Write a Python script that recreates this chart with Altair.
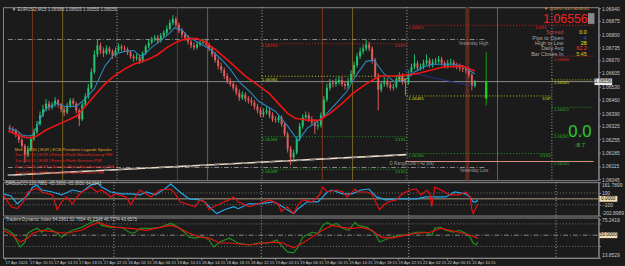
import json
import altair as alt
import pandas as pd

BG = "#1b1b1b"
FONT = "Liberation Sans"
AXC = "#c8c8c8"
GRID = "#8c8c8c"

# ---------------- data ----------------
# EURUSD candles (one candle per 30 min), values in pips above 1.06000
first_open_pips = 31.5
close_pips = [30.8, 29.8, 27.7, 25.1, 22.0, 17.4, 20.0, 25.6, 29.2, 33.4,
              38.0, 41.1, 44.1, 42.1, 43.6, 45.7, 43.6, 41.1, 39.5, 43.1,
              45.7, 44.1, 40.5, 35.9, 43.6, 47.7, 52.4, 60.6, 69.8, 74.5,
              71.9, 70.4, 72.9, 71.4, 69.3, 71.9, 73.9, 72.9, 72.4, 70.9,
              68.8, 67.8, 68.3, 66.2, 70.4, 73.9, 76.0, 77.6, 78.6, 77.0,
              79.6, 81.1, 83.2, 86.3, 88.3, 85.3, 82.2, 80.1, 78.6, 76.5,
              74.5, 73.4, 75.0, 76.0, 76.5, 75.0, 72.9, 69.8, 66.8, 63.7,
              61.6, 58.5, 56.0, 54.4, 52.4, 49.8, 47.2, 48.8, 46.7, 45.7,
              44.7, 42.6, 40.5, 38.5, 39.5, 40.5, 38.0, 35.9, 35.4, 36.9,
              33.4, 28.2, 20.5, 15.9, 18.4, 25.6, 32.3, 36.9, 38.0, 35.9,
              34.4, 32.3, 32.8, 38.0, 46.2, 52.4, 54.9, 54.4, 55.4, 56.5,
              54.4, 53.4, 56.0, 59.6, 64.2, 68.8, 71.4, 72.9, 75.0, 72.9,
              66.8, 58.5, 51.3, 54.4, 56.0, 53.9, 52.4, 52.9, 57.0, 58.5,
              55.4, 54.9, 59.6, 63.2, 65.2, 62.6, 63.2, 65.2, 66.8, 64.2,
              65.7, 66.2, 67.3, 65.2, 63.7, 65.2, 65.7, 64.2, 63.7, 62.6,
              62.1, 61.6, 59.1, 53.4, 55.6]
high_pips = [33.0, 32.0, 31.0, 29.0, 26.5, 23.0, 22.0, 27.0, 31.0, 35.0,
             40.0, 43.5, 46.5, 45.5, 45.0, 47.5, 46.5, 44.5, 42.5, 44.5,
             47.0, 47.0, 45.0, 41.5, 45.0, 49.5, 54.5, 62.5, 72.0, 77.5,
             76.0, 73.5, 74.5, 74.0, 72.5, 73.5, 75.5, 75.0, 74.5, 73.5,
             72.0, 70.0, 70.0, 69.5, 71.5, 75.0, 77.5, 79.0, 80.0, 80.0,
             81.0, 82.5, 85.0, 88.0, 90.4, 89.5, 86.5, 83.5, 81.5, 80.0,
             77.5, 76.0, 76.5, 77.5, 78.0, 77.5, 76.0, 74.0, 71.0, 68.0,
             65.5, 63.0, 60.0, 57.5, 56.0, 54.0, 51.5, 50.5, 50.0, 48.0,
             47.5, 46.0, 44.0, 42.0, 41.5, 42.5, 42.0, 39.5, 37.5, 38.5,
             38.0, 34.5, 29.5, 22.0, 20.0, 27.0, 34.0, 38.5, 40.0, 39.5,
             37.5, 36.0, 34.5, 39.5, 48.0, 54.5, 57.0, 56.5, 57.5, 58.5,
             58.0, 56.0, 57.5, 61.5, 66.0, 70.5, 73.5, 75.0, 77.6, 76.5,
             74.0, 68.0, 60.0, 56.0, 58.0, 57.5, 55.5, 54.5, 58.5, 60.5,
             60.0, 57.0, 61.5, 65.0, 69.8, 66.5, 65.0, 67.0, 69.8, 68.0,
             67.5, 68.0, 69.0, 68.5, 66.5, 67.0, 67.5, 67.0, 65.5, 65.0,
             64.0, 63.5, 63.0, 60.0, 56.5]
low_pips = [29.5, 28.5, 26.5, 23.5, 20.5, 13.3, 16.0, 19.0, 24.5, 28.0,
            32.5, 37.0, 40.0, 40.5, 41.0, 42.5, 42.0, 39.5, 37.5, 38.5,
            42.0, 43.0, 39.0, 32.3, 35.0, 42.5, 46.5, 51.5, 59.5, 68.5,
            70.0, 68.5, 69.5, 70.0, 67.5, 68.5, 71.0, 71.5, 71.0, 69.5,
            67.5, 66.0, 66.5, 64.7, 65.5, 69.5, 73.0, 75.0, 76.5, 75.5,
            76.0, 78.5, 80.0, 82.5, 85.0, 84.0, 81.0, 78.5, 77.0, 75.0,
            73.0, 72.0, 72.5, 74.0, 75.0, 73.5, 71.5, 68.5, 65.5, 62.0,
            60.0, 57.0, 54.5, 53.0, 51.0, 48.5, 45.5, 46.0, 45.0, 44.0,
            43.0, 41.0, 39.0, 37.0, 37.0, 38.5, 36.5, 34.5, 34.0, 34.0,
            32.0, 27.0, 18.5, 11.8, 13.5, 17.5, 24.5, 31.0, 35.5, 34.5,
            33.0, 28.2, 30.5, 31.5, 37.0, 45.0, 51.0, 52.5, 53.0, 54.0,
            53.0, 51.5, 52.0, 55.0, 58.5, 63.0, 67.5, 70.0, 71.5, 71.5,
            65.0, 57.0, 40.5, 50.0, 53.0, 52.5, 51.0, 51.0, 52.0, 56.0,
            54.0, 48.3, 54.0, 58.5, 62.0, 61.0, 61.5, 62.0, 64.0, 63.0,
            63.0, 64.5, 65.0, 64.0, 62.5, 62.5, 64.0, 63.0, 62.0, 61.0,
            60.5, 60.0, 57.5, 51.0, 52.5]

# moving averages (x = M15 bar index from 17 Apr 06:15, value in pips)
red_ma_x = [-1, 5, 12, 18, 24, 34, 44, 50, 56, 63, 69, 76, 82, 92, 98, 104, 111, 117, 124, 129,
            136, 146, 156, 165, 172, 178, 184, 189, 197, 205, 212, 220, 227, 236, 245, 255, 268,
            274, 287, 300, 308]
red_ma_p = [29.8, 27.7, 26.1, 27.2, 30.3, 33.9, 37.5, 42.6, 48.2, 54.4, 58.5, 62.1, 64.7, 67.3,
            69.8, 73.4, 76.5, 78.1, 78.1, 76.5, 72.4, 65.7, 58.5, 53.4, 49.3, 44.1, 39.0, 36.4,
            35.4, 35.4, 39.0, 44.1, 49.3, 54.4, 58.5, 58.5, 59.6, 60.6, 63.2, 63.7, 61.1]
blue_ma_x = [-1, 5, 8, 12, 15, 18, 21, 24, 31, 37, 44, 50, 56, 63, 69, 76, 82, 85, 88, 93, 99, 106,
             109, 114, 118, 127, 133, 140, 146, 152, 159, 165, 176, 184, 191, 197, 204, 210, 216,
             223, 229, 236, 241, 248, 255, 261, 268, 274, 280, 287, 293, 300, 308]
blue_ma_p = [31.3, 29.8, 27.7, 27.2, 27.7, 32.3, 37.5, 41.6, 44.1, 42.6, 42.6, 46.7, 51.9, 63.7,
             69.8, 71.4, 71.9, 69.8, 68.8, 72.9, 76.5, 81.1, 83.7, 82.7, 79.1, 75.0, 72.4, 67.3,
             62.1, 55.4, 50.3, 45.2, 40.0, 32.3, 24.6, 31.3, 34.9, 39.0, 44.1, 50.3, 58.5, 66.2,
             66.8, 59.6, 55.4, 56.0, 60.6, 63.2, 64.7, 64.7, 64.7, 63.7, 59.6]
navy_ma_x = [261, 287, 306]
navy_ma_p = [61.1, 56.5, 53.4]

# DRBobCCI
cci_blue_x = [-1, 4, 8, 12, 15, 18, 21, 24, 31, 37, 44, 50, 56, 60, 63, 69, 76, 82, 88, 92, 98, 104,
              108, 114, 120, 127, 130, 133, 138, 143, 149, 152, 159, 165, 175, 181, 184, 188, 191,
              197, 204, 207, 210, 213, 220, 226, 232, 237, 242, 248, 255, 261, 268, 274, 280, 287,
              293, 300, 303, 305, 307, 308]
cci_blue_v = [84, 50, -84, 0, 67, 200, 234, 150, 117, 67, 150, 117, 234, 267, 200, 117, 84, 84, 67,
              117, 67, 167, 251, 117, 0, -17, -50, -134, -251, -184, -134, -167, -84, -84, -50,
              -134, -184, -251, -167, -50, -50, 33, 117, 150, 84, 84, 150, 167, 33, -17, 0, 0, 0,
              33, 33, 33, 117, 84, 33, -50, -50, -17]
cci_red_x = [-1, 4, 8, 12, 15, 18, 21, 24, 31, 34, 37, 40, 44, 47, 50, 56, 60, 63, 69, 72, 79, 82,
             85, 88, 95, 101, 108, 111, 114, 120, 124, 127, 130, 133, 136, 143, 146, 149, 152, 159,
             165, 172, 178, 180, 184, 188, 191, 194, 200, 205, 207, 210, 216, 220, 223, 228, 230,
             236, 239, 242, 244, 247, 250, 255, 258, 261, 264, 268, 271, 275, 277, 278, 280, 284,
             290, 296, 300, 303, 304, 305, 307, 308]
cci_red_v = [67, -134, -167, -50, 117, 150, 184, 117, 67, -184, -50, 33, -84, 33, 117, 200, 117,
             150, 33, 84, 33, -100, 33, 150, 33, 150, 167, 84, -50, -100, -134, -17, -50, -184,
             -134, -50, -17, 33, -50, -134, -84, -17, -84, -217, -134, -251, -100, -17, -50, 67,
             200, 117, 150, 117, 33, 167, 117, 117, 84, -84, -184, -100, -50, -17, 67, 117, 150,
             167, 67, 150, 67, -134, 200, 150, 67, 67, 117, 33, -167, -251, -134, -100]

# Traders Dynamic Index
tdi_green_x = [-1, 2, 5, 8, 10, 13, 15, 18, 21, 24, 28, 34, 37, 40, 44, 50, 56, 60, 63, 69, 76, 82,
               85, 88, 95, 101, 108, 111, 117, 120, 124, 127, 130, 133, 136, 140, 146, 152, 159,
               165, 172, 177, 181, 184, 188, 191, 194, 200, 204, 207, 210, 213, 216, 220, 224, 228,
               230, 236, 241, 244, 247, 252, 258, 261, 268, 274, 278, 280, 284, 287, 292, 296, 300,
               303, 305, 307, 308]
tdi_green_v = [61.0, 57.8, 53.1, 39.0, 31.2, 39.0, 53.1, 57.8, 61.0, 54.7, 61.0, 53.1, 46.9, 53.1,
               57.8, 62.5, 70.3, 73.5, 65.7, 62.5, 62.5, 53.1, 54.7, 61.0, 61.0, 62.5, 68.8, 65.7,
               54.7, 46.9, 45.3, 46.9, 46.9, 42.2, 31.2, 39.0, 45.3, 37.5, 34.3, 37.5, 37.5, 42.2,
               31.2, 23.4, 21.8, 31.2, 46.9, 54.7, 53.1, 65.7, 70.3, 65.7, 68.8, 61.0, 57.8, 70.3,
               65.7, 62.5, 53.1, 39.0, 42.2, 46.9, 50.0, 50.0, 54.7, 54.7, 50.0, 61.0, 62.5, 57.8,
               54.7, 57.8, 53.1, 46.9, 37.5, 34.3, 39.0]
tdi_red_x = [-1, 5, 10, 15, 18, 24, 34, 40, 50, 56, 61, 66, 72, 82, 92, 101, 108, 114, 120, 127,
             133, 140, 146, 159, 168, 175, 181, 188, 194, 200, 207, 213, 220, 226, 232, 239, 245,
             252, 258, 261, 268, 277, 284, 290, 296, 303, 308]
tdi_red_v = [57.8, 50.0, 39.0, 45.3, 53.1, 57.8, 54.7, 53.1, 57.8, 65.7, 70.3, 65.7, 62.5, 61.0,
             57.8, 62.5, 65.7, 61.0, 53.1, 46.9, 45.3, 37.5, 37.5, 34.3, 37.5, 39.0, 37.5, 29.7,
             37.5, 46.9, 57.8, 65.7, 62.5, 61.0, 62.5, 57.8, 46.9, 45.3, 48.4, 50.0, 53.1, 54.7,
             61.0, 57.8, 54.7, 50.0, 45.3]

time_labels = ["17 Apr 2024", "17 Apr 10:15", "17 Apr 14:15", "17 Apr 18:15", "17 Apr 22:15",
               "18 Apr 02:15", "18 Apr 06:15", "18 Apr 10:15", "18 Apr 14:15", "18 Apr 18:15",
               "18 Apr 22:15", "19 Apr 02:15", "19 Apr 06:15", "19 Apr 10:15", "19 Apr 14:15",
               "19 Apr 18:15", "19 Apr 22:15", "22 Apr 02:15", "22 Apr 06:15", "22 Apr 10:15"]
price_ticks = [1.06940, 1.06875, 1.06800, 1.06735, 1.06670, 1.06605, 1.06530, 1.06460,
               1.06390, 1.06325, 1.06255, 1.06185, 1.06115, 1.06045]

session_x = [15, 35, 111, 131, 207, 227, 303, 323]
session_kind = ["ldn", "ny", "ldn", "ny", "ldn", "ny", "now", "ny"]
day_sep_x = [71, 167, 263, 359]

# pivot / level segments: (x1, x2, price, style)
levels = [
    (-1.3, 315.5, 1.06776, "yday"), (-1.3, 315.5, 1.06107, "yday"),
    (-1.3, 386.6, 1.06556, "bid"),
    (167, 263, 1.06754, "r"), (263, 386.6, 1.06851, "r"), (359, 386.6, 1.06689, "r"),
    (167, 263, 1.06584, "p"), (263, 359, 1.06481, "p"), (359, 386.6, 1.06565, "p"),
    (167, 263, 1.06268, "s"), (167, 263, 1.06098, "s"), (263, 359, 1.06180, "s"),
    (359, 386.6, 1.06422, "s"), (359, 386.6, 1.06281, "s"), (359, 386.6, 1.06140, "s"),
    (262, 386.6, 1.06138, "range"),
]
trend_x = [-1.3, 262.5]
trend_p = [1.06066, 1.06174]

# ---------------- frames ----------------
def price(p):
    return round(1.06 + p / 10000.0, 6)

opens = [first_open_pips] + close_pips[:-1]
cd = pd.DataFrame({
    "x": [2 * i for i in range(len(close_pips))],
    "o": [price(v) for v in opens],
    "c": [price(v) for v in close_pips],
    "h": [price(v) for v in high_pips],
    "l": [price(v) for v in low_pips],
})
cd["col"] = ["#22c26e" if c >= o else "#e25c5c" for o, c in zip(cd["o"], cd["c"])]

XMIN, XMAX = -1.28, 386.6
W = 606
XS = alt.Scale(domain=[XMIN, XMAX], nice=False, zero=False)


def X(f="x", axis=None):
    return alt.X(f"{f}:Q", scale=XS, axis=axis, title=None)


MAIN_YS = alt.Scale(domain=[1.060405, 1.06945], nice=False, zero=False)
MAIN_AX = alt.Axis(orient="right", values=price_ticks, format=".5f", tickSize=2,
                   labelFontSize=5, labelPadding=1, grid=False)


def YM(f):
    return alt.Y(f"{f}:Q", scale=MAIN_YS, axis=MAIN_AX, title=None)


def line(xs, vs, color, width, Yf, Xf=X, dash=None):
    df = pd.DataFrame({"x": xs, "v": vs})
    kw = dict(color=color, strokeWidth=width, interpolate="linear")
    if dash:
        kw["strokeDash"] = dash
    return alt.Chart(df).mark_line(**kw).encode(x=Xf(), y=Yf("v"))


def texts(rows, Yf, align, weight="normal", Xf=X):
    df = pd.DataFrame(rows, columns=["x", "v", "t", "col", "fs"])
    return alt.Chart(df).mark_text(align=align, baseline="middle", font=FONT,
                                   fontWeight=weight).encode(
        x=Xf(), y=Yf("v"), text="t:N",
        color=alt.Color("col:N", scale=None), size=alt.Size("fs:Q", scale=None))


def boxes(rows, Yf, Xf=X):
    df = pd.DataFrame(rows, columns=["x", "x2", "v", "v2", "col"])
    return alt.Chart(df).mark_rect().encode(
        x=Xf(), x2="x2:Q", y=Yf("v"), y2="v2:Q", color=alt.Color("col:N", scale=None))


sess_col = {"ldn": "#7c3519", "ny": "#7a6322", "now": "#5a2a20"}
sess_w = {"ldn": 1, "ny": 1, "now": 4}
sess = pd.DataFrame({"x": session_x,
                     "col": [sess_col[k] for k in session_kind],
                     "w": [sess_w[k] for k in session_kind]})
days = pd.DataFrame({"x": day_sep_x})

lv = pd.DataFrame(levels, columns=["x", "x2", "v", "kind"])
lv_style = {
    "yday": dict(color="#8a8a8a", strokeDash=[5, 2, 1, 2], strokeWidth=1),
    "bid": dict(color="#8c8c8c", strokeWidth=1),
    "r": dict(color="#d22222", strokeDash=[1, 2], strokeWidth=1),
    "p": dict(color="#caca10", strokeDash=[1, 2], strokeWidth=1),
    "s": dict(color="#1ea01e", strokeDash=[1, 2], strokeWidth=1),
    "range": dict(color="#e0907e", strokeWidth=1),
}

main_layers = [
    alt.Chart(sess).mark_rule().encode(x=X(), color=alt.Color("col:N", scale=None),
                                       strokeWidth=alt.StrokeWidth("w:Q", scale=None)),
    alt.Chart(days).mark_rule(color="#a8a8a8", strokeDash=[1, 2], strokeWidth=1).encode(x=X()),
]
for kind, st in lv_style.items():
    main_layers.append(alt.Chart(lv[lv.kind == kind]).mark_rule(**st).encode(
        x=X(), x2="x2:Q", y=YM("v")))
main_layers += [
    line(trend_x, trend_p, "#efdcc0", 1.6, YM),
    line(trend_x, trend_p, "#8a8a8a", 1.6, YM, dash=[6, 8]),
    # green range marker
    alt.Chart(pd.DataFrame({"x": [315.5], "v": [1.06709], "v2": [1.06431]})).mark_rule(
        color="#18a018", strokeWidth=1).encode(x=X(), y=YM("v"), y2="v2:Q"),
    alt.Chart(pd.DataFrame({"x": [315.5], "v": [1.06555], "v2": [1.06467]})).mark_rule(
        color="#10e010", strokeWidth=2.2).encode(x=X(), y=YM("v"), y2="v2:Q"),
    # candles
    alt.Chart(cd).mark_rule(strokeWidth=1).encode(x=X(), y=YM("l"), y2="h:Q",
                                                   color=alt.Color("col:N", scale=None)),
    alt.Chart(cd).mark_bar(size=2).encode(x=X(), y=YM("o"), y2="c:Q",
                                           color=alt.Color("col:N", scale=None)),
    line(blue_ma_x, [price(v) for v in blue_ma_p], "#2a86c0", 1.1, YM),
    line(navy_ma_x, [price(v) for v in navy_ma_p], "#24308e", 1.0, YM),
    line(red_ma_x, [price(v) for v in red_ma_p], "#f01414", 1.6, YM),
    boxes([(387.2, 398.9, 1.06572, 1.06538, "#e8e8e8"),
           (382.9, 387.2, 1.06914, 1.06858, "#8a8a8a")], YM),
]

RED, YEL, GRN, GRY = "#e02222", "#d6d61a", "#22b022", "#9a9a9a"
left_rows = [
    (1.3, 1.06930, "\u25bc EURUSD,M15  1.06586 1.06605 1.06555 1.06556", "#c8c8c8", 4.6),
    (3.2, 1.06200, "Mon | 18:30 | EUR | ECB President Lagarde Speaks", "#e0a020", 4.3),
    (3.2, 1.06172, "Tue | 10:15 | EUR | French Flash Manufacturing PMI", "#e02828", 4.3),
    (3.2, 1.06141, "Tue | 10:15 | EUR | French Flash Services PMI", "#e02828", 4.3),
    (3.2, 1.06110, "Tue | 10:30 | EUR | German Flash Manufacturing PMI", "#e02828", 4.3),
    (3.2, 1.06079, "Tue | 10:30 | EUR | German Flash Services PMI", "#e02828", 4.3),
    (166.9, 1.06740, "1.06754", RED, 4.4), (166.9, 1.06565, "1.06584", YEL, 4.4),
    (166.9, 1.06251, "1.06268", GRN, 4.4), (166.9, 1.06082, "1.06098", GRN, 4.4),
    (263.9, 1.06838, "1.06851", RED, 4.4), (263.9, 1.06466, "1.06481", YEL, 4.4),
    (263.9, 1.06166, "1.06180", GRN, 4.4),
    (360.3, 1.06670, "1.06689", RED, 4.3), (360.3, 1.06551, "1.06565", YEL, 4.3),
    (360.3, 1.06408, "1.06422", GRN, 4.3), (360.3, 1.06267, "1.06281", GRN, 4.3),
    (360.3, 1.06126, "1.06140", GRN, 4.3),
    (251.5, 1.06125, "D Range Low (-42 pts)", GRY, 4.5),
]
right_rows = [
    (262.4, 1.06740, "D1R1", RED, 4.4), (262.4, 1.06565, "D1P", YEL, 4.4),
    (262.4, 1.06251, "D1S1", GRN, 4.4), (262.4, 1.06082, "D1S2", GRN, 4.4),
    (355.5, 1.06838, "D1R1", RED, 4.4), (358.4, 1.06466, "D1P", YEL, 4.4),
    (358.4, 1.06166, "D1S1", GRN, 4.4),
    (316.8, 1.06755, "Yesterday High", GRY, 4.5), (316.8, 1.06087, "Yesterday Low", GRY, 4.5),
    (366.7, 1.06815, "Spread", "#b84040", 5.5), (366.7, 1.06786, "Pips to Open", "#a8a8a8", 5.5),
    (366.7, 1.06757, "High to Low", "#a8a8a8", 5.5), (366.7, 1.06729, "Daily Avg", "#a8a8a8", 5.5),
    (366.7, 1.06700, "Bar Closes In", "#a8a8a8", 5.5),
    (382.1, 1.06815, "0.0", "#e6e61e", 5.5), (382.1, 1.06786, "4", "#3a50ff", 5.5),
    (382.1, 1.06757, "28", "#e6e61e", 5.5), (382.1, 1.06729, "62.2", "#ff2a2a", 5.5),
    (382.1, 1.06700, "5:45", "#e6c21e", 5.5),
    (382.7, 1.06885, "1.06556", "#ff1e1e", 12.5),
]
center_rows = [
    (368.6, 1.06935, "\u25bc -0.03% / 0.0 / 00:05:45", "#e0a030", 4.0),
    (377.6, 1.06290, "0.0", "#30c830", 17),
    (377.6, 1.06222, "-8.7", "#30c830", 6.0),
    (393.0, 1.06555, "1.06556", "#000000", 4.8),
]
main_layers += [texts(left_rows, YM, "left"), texts(right_rows, YM, "right"),
                texts(center_rows, YM, "center")]
main = alt.layer(*main_layers).properties(width=W, height=176)

# ---------------- CCI panel ----------------
CCI_YS = alt.Scale(domain=[-284, 284], nice=False, zero=False)
CCI_AX = alt.Axis(orient="right", values=[284, 100, -100, -284], tickSize=2, labelFontSize=5,
                  labelPadding=1, grid=False, labelFlush=True,
                  labelExpr="datum.value == 284 ? '161.7899' : datum.value == -284 ? '-202.8989' : format(datum.value, 'd')")


def YC(f):
    return alt.Y(f"{f}:Q", scale=CCI_YS, axis=CCI_AX, title=None)


cci_lv = pd.DataFrame({"x": [XMIN, XMIN], "x2": [XMAX, XMAX], "v": [100, -100]})
cci = alt.layer(
    alt.Chart(days).mark_rule(color="#a8a8a8", strokeDash=[1, 2]).encode(x=X()),
    alt.Chart(cci_lv).mark_rule(color="#777777", strokeDash=[1, 2]).encode(x=X(), x2="x2:Q", y=YC("v")),
    alt.Chart(pd.DataFrame({"x": [XMIN], "x2": [XMAX], "v": [0]})).mark_rule(
        color="#ad9f84").encode(x=X(), x2="x2:Q", y=YC("v")),
    line(cci_blue_x, cci_blue_v, "#25a6e6", 1.2, YC),
    line(cci_red_x, cci_red_v, "#e81010", 1.2, YC),
    boxes([(387.2, 398.9, 50, -50, "#f0dcb4")], YC),
    texts([(0.6, 258, "DRBobCCI 120.7881 -65.3950 -65.3950 64.0041", "#c8c8c8", 4.5)], YC, "left"),
    texts([(393.0, 0, "0.0000", "#000000", 4.8)], YC, "center"),
).properties(width=W, height=34)

# ---------------- TDI panel ----------------
TDI_YS = alt.Scale(domain=[13.8529, 78.2], nice=False, zero=False)
TDI_AX = alt.Axis(orient="right", values=[75.2419, 68, 32, 13.8529], tickSize=2, labelFontSize=5,
                  labelPadding=1, grid=False, labelFlush=True,
                  labelExpr="datum.value == 68 || datum.value == 32 ? format(datum.value, 'd') : format(datum.value, '.4f')")
TIME_AX = alt.Axis(values=[16 * i for i in range(len(time_labels))], labelAlign="left",
                   labelExpr="%s[round(datum.value / 16)]" % json.dumps(time_labels),
                   tickSize=2, labelFontSize=4.2, labelPadding=1, grid=False, labelFlush=False,
                   labelOverlap=False)


def XT(f="x"):
    return X(f, axis=TIME_AX)


def YT(f):
    return alt.Y(f"{f}:Q", scale=TDI_YS, axis=TDI_AX, title=None)


tdi_lv = pd.DataFrame({"x": [XMIN, XMIN], "x2": [XMAX, XMAX], "v": [68, 32]})
tdi = alt.layer(
    alt.Chart(days).mark_rule(color="#a8a8a8", strokeDash=[1, 2]).encode(x=XT()),
    alt.Chart(tdi_lv).mark_rule(color="#777777", strokeDash=[1, 2]).encode(x=XT(), x2="x2:Q", y=YT("v")),
    alt.Chart(pd.DataFrame({"x": [XMIN], "x2": [XMAX], "v": [50]})).mark_rule(
        color="#8a8a8a", strokeDash=[5, 2, 1, 2]).encode(x=XT(), x2="x2:Q", y=YT("v")),
    line(tdi_green_x, tdi_green_v, "#1f8f1f", 1.2, YT, Xf=XT),
    line(tdi_red_x, tdi_red_v, "#e81010", 1.2, YT, Xf=XT),
    boxes([(387.2, 398.9, 54.7, 45.3, "#f0dcb4")], YT, Xf=XT),
    texts([(0.6, 74.0, "Traders Dynamic Index 64.2961 52.7654 41.2348 46.7274 43.6575", "#c8c8c8", 4.5)],
          YT, "left", Xf=XT),
    texts([(393.0, 50, "50.0000", "#000000", 4.8)], YT, "center", Xf=XT),
).properties(width=W, height=41)

chart = alt.vconcat(main, cci, tdi, spacing=2, bounds="flush").configure(
    background=BG, padding={"left": 0, "top": 2, "right": 0, "bottom": 0}
).configure_view(fill=BG, stroke=GRID, strokeWidth=1).configure_axis(
    labelColor=AXC, labelFont=FONT, tickColor=GRID, domainColor=GRID, grid=False
)

chart.save("out.html", embed_options={"renderer": "svg", "actions": False})
